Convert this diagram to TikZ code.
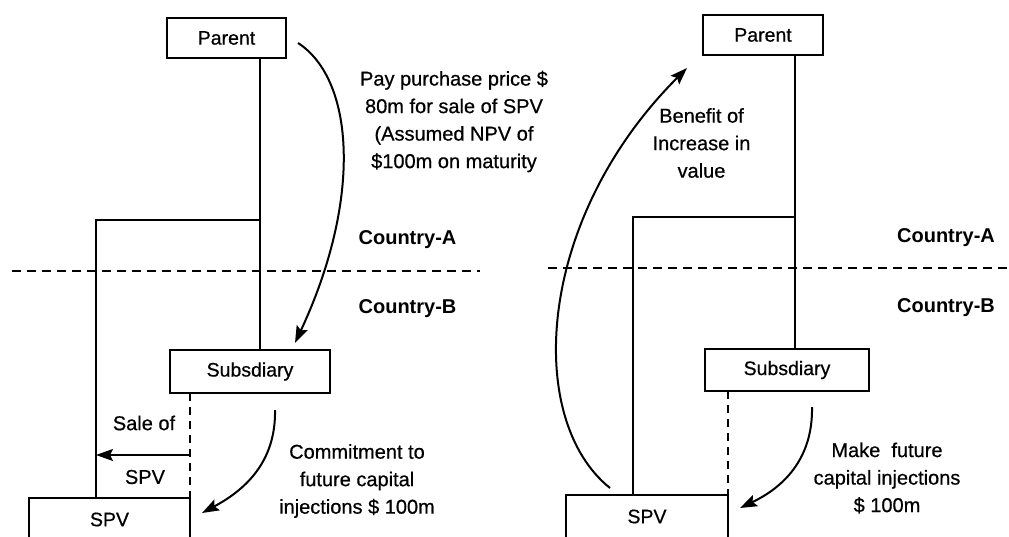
\documentclass[tikz,border=0pt]{standalone}
\usepackage{fontspec}
\setmainfont{Liberation Sans}
\newfontfamily\heavyfont{Liberation Sans}[FakeBold=0.6]
\usetikzlibrary{arrows.meta}
\begin{document}
\begin{tikzpicture}[x=1pt,y=-1pt,
  box/.style={draw,line width=1.9pt,inner sep=0pt,outer sep=0pt,
    font=\heavyfont\fontsize{19.5}{23}\selectfont},
  link/.style={line width=1.9pt},
  border/.style={line width=1.5pt,dash pattern=on 9pt off 6pt},
  guide/.style={line width=1.7pt,dash pattern=on 8pt off 6pt},
  flow/.style={line width=2pt,-{Stealth[length=17pt,width=12pt,inset=3pt]}},
  note/.style={align=center,inner sep=0pt,font=\heavyfont\fontsize{20}{27.5}\selectfont},
  country/.style={inner sep=0pt,font=\bfseries\fontsize{20}{24}\selectfont}]
\useasboundingbox (0,0) rectangle (1009,537);
\clip (0,0) rectangle (1009,537);

% ---------------- left: sale of the SPV ----------------
\node[box,minimum width=119pt,minimum height=40pt] (pL) at (226.5,38) {Parent};
\node[box,minimum width=160pt,minimum height=43pt] (sL) at (250,371.5) {Subsdiary};
\node[box,minimum width=161pt,minimum height=43pt] (vL) at (109.5,519.5) {SPV};

\coordinate (jL) at (260,220);
\coordinate (kL) at (96,220);
\draw[link] (pL.south -| jL) -- (sL.north -| jL);
\draw[link] (jL) -- (kL) -- (vL.north -| kL);
\draw[guide] (sL.south -| vL.north east) -- (vL.north east);

\coordinate (saleL) at (190,455);
\draw[flow] (saleL) -- (saleL -| kL);
\node[note] (saleA) at (144,423) {Sale of};
\node[note] (saleB) at (145,477) {SPV};

\coordinate (payS) at (298,43);
\coordinate (payE) at (295,343);
\draw[flow] (payS) .. controls (355,80) and (362,200) .. (payE);
\node[note] (pay) at (454,121.5) {Pay purchase price \$\\80m for sale of SPV\\(Assumed NPV of\\\$100m on maturity};

\coordinate (comS) at (275,410);
\coordinate (comE) at (202,513);
\draw[flow] (comS) .. controls (276,462) and (245,490) .. (comE);
\node[note] (com) at (357,481) {Commitment to\\future capital\\injections \$ 100m};

\draw[border] (12,271) -- (480,271);
\node[country] (caL) at (407.5,240) {Country-A};
\node[country] (cbL) at (407.5,309) {Country-B};

% ---------------- right: capital injections ----------------
\node[box,minimum width=120pt,minimum height=40pt] (pR) at (763,35) {Parent};
\node[box,minimum width=164pt,minimum height=42pt] (sR) at (787,370) {Subsdiary};
\node[box,minimum width=162pt,minimum height=43pt] (vR) at (647,516.5) {SPV};

\coordinate (jR) at (795,217);
\coordinate (kR) at (633,217);
\draw[link] (pR.south -| jR) -- (sR.north -| jR);
\draw[link] (jR) -- (kR) -- (vR.north -| kR);
\draw[guide] (sR.south -| vR.north east) -- (vR.north east);

\coordinate (benS) at (610,488);
\coordinate (benE) at (687,68);
\draw[flow] (benS) .. controls (525,420) and (535,220) .. (benE);
\node[note] (ben) at (701.5,143) {Benefit of\\Increase in\\value};

\coordinate (injS) at (812,407);
\coordinate (injE) at (740,508);
\draw[flow] (injS) .. controls (813,460) and (782,488) .. (injE);
\node[note] (inj) at (887,478) {Make\ \ future\\capital injections\\\$ 100m};

\draw[border] (548,268) -- (1009,268);
\node[country] (caR) at (946,238) {Country-A};
\node[country] (cbR) at (946,308) {Country-B};
\end{tikzpicture}
\end{document}
